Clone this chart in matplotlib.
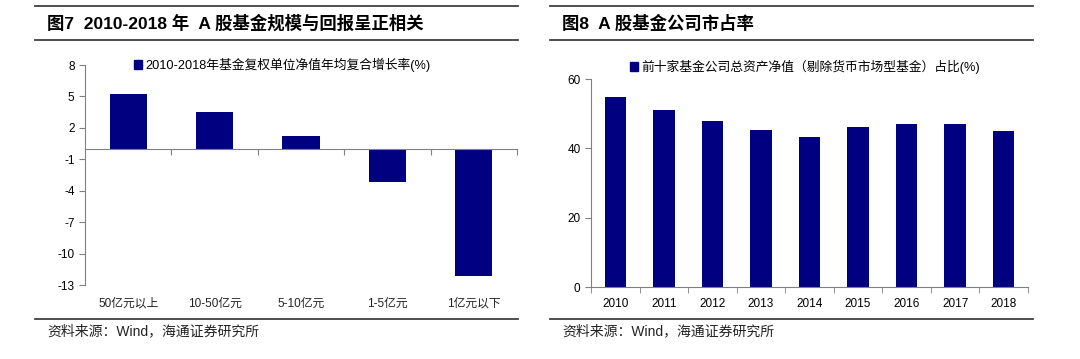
import matplotlib
matplotlib.use("Agg")
import matplotlib.pyplot as plt
from matplotlib.lines import Line2D
from matplotlib.patches import Patch
import numpy as np

plt.rcParams['font.family'] = ['Liberation Sans', 'Noto Sans CJK SC']
plt.rcParams['axes.unicode_minus'] = False

# left chart data
size_groups = ["50亿元以上", "10-50亿元", "5-10亿元", "1-5亿元", "1亿元以下"]
cagr = [5.2, 3.5, 1.2, -3.2, -12.1]
left_yticks = [8, 5, 2, -1, -4, -7, -10, -13]

# right chart data
years = ["2010", "2011", "2012", "2013", "2014", "2015", "2016", "2017", "2018"]
top10_share = [54.7, 51.0, 47.8, 45.4, 43.4, 46.2, 47.0, 47.0, 45.0]
right_yticks = [0, 20, 40, 60]

navy = "#000080"
W, H = 1080, 359
fig = plt.figure(figsize=(W / 100, H / 100), dpi=100)

def fx(px):
    return px / W

def fy(py):
    return 1 - py / H

# rules and titles
for x0, x1 in [(35, 518), (550, 1033)]:
    for y in (6, 40, 319):
        fig.add_artist(Line2D([fx(x0), fx(x1)], [fy(y), fy(y)], color="#404040", lw=1.3))

fig.text(fx(47), fy(23), "图7  2010-2018 年  A 股基金规模与回报呈正相关", fontsize=12.5,
         fontweight="bold", va="center", ha="left")
fig.text(fx(562), fy(23), "图8  A 股基金公司市占率", fontsize=12.5,
         fontweight="bold", va="center", ha="left")
fig.text(fx(47), fy(331), "资料来源：Wind，海通证券研究所", fontsize=10, va="center", ha="left",
         color="#222222")
fig.text(fx(562), fy(331), "资料来源：Wind，海通证券研究所", fontsize=10, va="center", ha="left",
         color="#222222")

# ---- left chart
ax1 = fig.add_axes([fx(85), fy(285), fx(517 - 85), (285 - 65) / H])
x = np.arange(len(size_groups))
ax1.bar(x, cagr, width=0.43, color=navy)
ax1.set_xlim(-0.5, len(size_groups) - 0.5)
ax1.set_ylim(-13, 8)
ax1.set_yticks(left_yticks)
ax1.spines["top"].set_visible(False)
ax1.spines["right"].set_visible(False)
ax1.spines["bottom"].set_position(("data", 0))
for s in ("left", "bottom"):
    ax1.spines[s].set_color("#808080")
ax1.set_xticks(np.arange(len(size_groups)) + 0.5)
ax1.set_xticklabels([])
ax1.tick_params(axis="x", direction="out", length=4, color="#808080")
ax1.tick_params(axis="y", direction="out", length=4, color="#808080", labelsize=8.5)
for i, lab in enumerate(size_groups):
    ax1.text(i, -0.085, lab, transform=ax1.get_xaxis_transform(), ha="center", va="center",
             fontsize=8.5, color="#222222")
ax1.legend(handles=[Patch(color=navy)], labels=["2010-2018年基金复权单位净值年均复合增长率(%)"],
           loc="center left", bbox_to_anchor=(fx(134), fy(65)), bbox_transform=fig.transFigure,
           frameon=False, fontsize=9.2, handlelength=0.6, handleheight=0.7, handletextpad=0.3,
           borderpad=0, borderaxespad=0)

# ---- right chart
ax2 = fig.add_axes([fx(591), fy(287), fx(1028 - 591), (287 - 79) / H])
x2 = np.arange(len(years))
ax2.bar(x2, top10_share, width=0.44, color=navy)
ax2.set_xlim(-0.5, len(years) - 0.5)
ax2.set_ylim(0, 60)
ax2.set_yticks(right_yticks)
ax2.spines["top"].set_visible(False)
ax2.spines["right"].set_visible(False)
for s in ("left", "bottom"):
    ax2.spines[s].set_color("#808080")
ax2.set_xticks(x2)
ax2.set_xticklabels(years)
ax2.set_xticks(np.arange(len(years) + 1) - 0.5, minor=True)
ax2.tick_params(axis="x", which="major", length=0, labelsize=8.5, pad=8)
ax2.tick_params(axis="x", which="minor", direction="out", length=4, color="#808080")
ax2.tick_params(axis="y", direction="out", length=4, color="#808080", labelsize=8.5)
ax2.legend(handles=[Patch(color=navy)], labels=["前十家基金公司总资产净值（剔除货币市场型基金）占比(%)"],
           loc="center left", bbox_to_anchor=(fx(630), fy(67)), bbox_transform=fig.transFigure,
           frameon=False, fontsize=9.2, handlelength=0.6, handleheight=0.7, handletextpad=0.3,
           borderpad=0, borderaxespad=0)

fig.savefig("out.png", dpi=100, facecolor="white")
